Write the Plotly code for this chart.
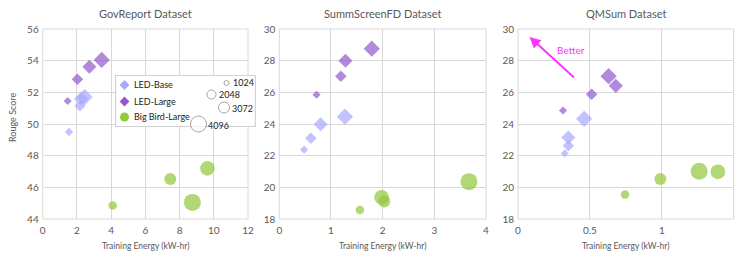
import plotly.graph_objects as go
import numpy as np

# Screenshot-pixel layout: the page body has an 8px margin, so the figure is
# shifted by OFF pixels; all layout positions below are screenshot pixels.
OFF = 8
FW, FH = 731, 243

# ---------------- data ----------------
seq_lens = [1024, 2048, 3072, 4096]

gov_base_x = [1.54, 2.18, 2.25, 2.45]
gov_base_y = [49.5, 51.15, 51.6, 51.7]
gov_large_x = [1.46, 2.03, 2.73, 3.45]
gov_large_y = [51.45, 52.82, 53.62, 54.05]
gov_bb_x = [4.09, 7.46, 9.63, 8.75]
gov_bb_y = [44.85, 46.53, 47.2, 45.05]

ss_base_x = [0.48, 0.61, 0.80, 1.27]
ss_base_y = [22.38, 23.1, 23.98, 24.46]
ss_large_x = [0.72, 1.19, 1.28, 1.79]
ss_large_y = [25.85, 27.01, 28.0, 28.76]
ss_bb_x = [1.56, 2.03, 1.98, 3.67]
ss_bb_y = [18.57, 19.1, 19.37, 20.36]

qm_base_x = [0.325, 0.35, 0.35, 0.46]
qm_base_y = [22.14, 22.63, 23.15, 24.33]
qm_large_x = [0.313, 0.512, 0.68, 0.63]
qm_large_y = [24.85, 25.88, 26.41, 27.02]
qm_bb_x = [0.744, 0.99, 1.39, 1.26]
qm_bb_y = [19.54, 20.53, 20.98, 21.02]

titles = ["GovReport Dataset", "SummScreenFD Dataset", "QMSum Dataset"]
series_names = ["LED-Base", "LED-Large", "Big Bird-Large"]
x_ranges = [[0, 12], [0, 4], [0, 1.5]]
x_dticks = [2, 1, 0.5]
y_ranges = [[44, 56], [18, 30], [18, 30]]

C_BASE = "#A8A8FF"
C_LARGE = "#9059CF"
C_BB = "#92C83C"
GRID = "#D9D9D9"
TXT = "#595959"
FONT = "Lato"


def px(x):
    return (x - OFF) / FW


def py(y):
    return 1 - (y - OFF) / FH


def dsize(L, k):
    return [k * np.sqrt(l / 4096.0) for l in L]


fig = go.Figure()

panels = [
    (gov_base_x, gov_base_y, gov_large_x, gov_large_y, gov_bb_x, gov_bb_y),
    (ss_base_x, ss_base_y, ss_large_x, ss_large_y, ss_bb_x, ss_bb_y),
    (qm_base_x, qm_base_y, qm_large_x, qm_large_y, qm_bb_x, qm_bb_y),
]

x_px = [(42.7, 248.0), (279.3, 486.0), (518.0, 733.7)]
y_px = (29.0, 219.0)

for i, (bx, by, lx, ly, gx, gy) in enumerate(panels):
    xa = "x" if i == 0 else f"x{i+1}"
    ya = "y" if i == 0 else f"y{i+1}"
    fig.add_trace(go.Scatter(x=bx, y=by, mode="markers", xaxis=xa, yaxis=ya,
                             marker=dict(symbol="diamond", color=C_BASE, size=dsize(seq_lens, 12.5), line=dict(width=0)),
                             name=series_names[0], showlegend=False))
    fig.add_trace(go.Scatter(x=lx, y=ly, mode="markers", xaxis=xa, yaxis=ya,
                             marker=dict(symbol="diamond", color=C_LARGE, size=dsize(seq_lens, 12.5), line=dict(width=0)),
                             name=series_names[1], showlegend=False))
    fig.add_trace(go.Scatter(x=gx, y=gy, mode="markers", xaxis=xa, yaxis=ya,
                             marker=dict(symbol="circle", color=C_BB, size=dsize(seq_lens, 17), line=dict(width=0)),
                             name=series_names[2], showlegend=False))

layout = dict(
    width=FW, height=FH, margin=dict(l=0, r=0, t=0, b=0, pad=0),
    paper_bgcolor="white", plot_bgcolor="white",
    font=dict(family=FONT, color=TXT, size=10),
    showlegend=False,
)

annotations = []
for i in range(3):
    sx = "" if i == 0 else str(i + 1)
    x0, x1 = x_px[i]
    layout["xaxis" + sx] = dict(
        domain=[px(x0), px(x1)], range=x_ranges[i], dtick=x_dticks[i], tick0=0,
        showgrid=True, gridcolor=GRID, gridwidth=1, zeroline=False,
        showline=False, ticks="", tickfont=dict(size=10, color=TXT),
        ticklabelstandoff=4,
        anchor="y" + sx, automargin=False,
    )
    layout["yaxis" + sx] = dict(
        domain=[py(y_px[1]), py(y_px[0])], range=y_ranges[i], dtick=2,
        showgrid=True, gridcolor=GRID, gridwidth=1, zeroline=False,
        showline=False, ticks="", tickfont=dict(size=10, color=TXT),
        ticklabelstandoff=3,
        anchor="x" + sx, automargin=False,
    )
    annotations.append(dict(
        text=titles[i], x=px((x0 + x1) / 2), y=py(13), xref="paper", yref="paper",
        showarrow=False, font=dict(size=11, color=TXT), xanchor="center", yanchor="middle"))
    annotations.append(dict(
        text="Training Energy (kW-hr)", x=px((x0 + x1) / 2), y=py(246), xref="paper", yref="paper",
        showarrow=False, font=dict(size=8.5, color=TXT), xanchor="center", yanchor="middle"))

annotations.append(dict(text="Rouge Score", x=px(13), y=py(118), xref="paper", yref="paper",
                        textangle=-90, showarrow=False, font=dict(size=9, color=TXT),
                        xanchor="center", yanchor="middle"))

# plot-area borders (outer grid lines)
shapes = []
for i in range(3):
    x0, x1 = x_px[i]
    shapes.append(dict(type="rect", xref="paper", yref="paper",
                       x0=px(x0), x1=px(x1), y0=py(y_px[1]), y1=py(y_px[0]),
                       line=dict(color=GRID, width=1), layer="below"))

# "Better" arrow on QMSum
annotations.append(dict(x=0.08, y=29.5, ax=0.40, ay=26.85, xref="x3", yref="y3", axref="x3", ayref="y3",
                        showarrow=True, arrowhead=2, arrowsize=1.1, arrowwidth=2, arrowcolor="#FF33FF", text=""))
annotations.append(dict(x=0.37, y=28.65, xref="x3", yref="y3", text="Better", showarrow=False,
                        font=dict(size=10, color="#FF33FF")))

# ---------------- custom legend (overlay pixel axis limited to the legend box) ----------------
bx0, by0, bx1, by1 = 115.5, 75.0, 255.5, 127.0
layout["xaxis4"] = dict(domain=[px(bx0), px(bx1)], range=[bx0, bx1], visible=False, fixedrange=True, anchor="y4")
layout["yaxis4"] = dict(domain=[py(by1), py(by0)], range=[by1, by0], visible=False, fixedrange=True, anchor="x4")

fig.add_trace(go.Scatter(x=[bx0, bx1, bx1, bx0, bx0], y=[by0, by0, by1, by1, by0], mode="lines",
                         fill="toself", fillcolor="white",
                         line=dict(color="#A6A6A6", width=1.2), cliponaxis=False,
                         xaxis="x4", yaxis="y4", hoverinfo="skip", showlegend=False))

leg_y = [85, 101.5, 117]
leg_sym = ["diamond", "diamond", "circle"]
leg_col = [C_BASE, C_LARGE, C_BB]
leg_sz = [7.5, 7.5, 9]
for n, yy, s, c, sz in zip(series_names, leg_y, leg_sym, leg_col, leg_sz):
    fig.add_trace(go.Scatter(x=[124.5], y=[yy], mode="markers", marker=dict(symbol=s, color=c, size=sz, line=dict(width=0)),
                             xaxis="x4", yaxis="y4", hoverinfo="skip", showlegend=False, cliponaxis=False))
    annotations.append(dict(x=132, y=yy, xref="x4", yref="y4", text=n, showarrow=False,
                            xanchor="left", yanchor="middle", font=dict(size=9, color="#222222")))

size_leg_x = [226.5, 211.5, 224.0, 198.5]
size_leg_y = [83.0, 94.5, 107.5, 124.0]
size_leg_d = [5, 9, 11, 16]
size_lab_x = [230.5, 216.5, 229.5, 206.0]
size_lab_y = [83.0, 95.0, 108.5, 125.5]
fig.add_trace(go.Scatter(x=size_leg_x, y=size_leg_y, mode="markers", cliponaxis=False,
                         marker=dict(symbol="circle", color="white", size=size_leg_d, line=dict(color="#7F7F7F", width=1)),
                         xaxis="x4", yaxis="y4", hoverinfo="skip", showlegend=False))
for L, lx, ly in zip(seq_lens, size_lab_x, size_lab_y):
    annotations.append(dict(x=lx, y=ly, xref="x4", yref="y4", text=str(L), showarrow=False,
                            xanchor="left", yanchor="middle", font=dict(size=9, color="#222222")))

layout["annotations"] = annotations
layout["shapes"] = shapes
fig.update_layout(**layout)
fig.write_html("out.html")
